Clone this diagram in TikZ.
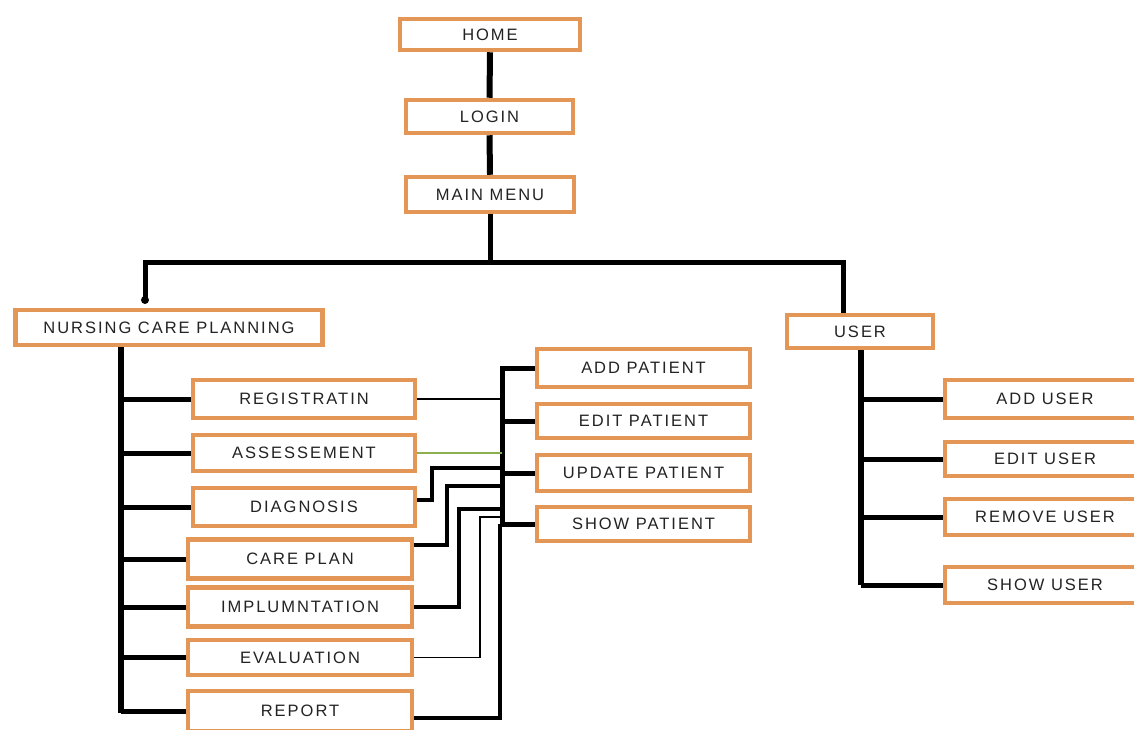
\documentclass[tikz,border=0pt]{standalone}
\usepackage{fontspec}
\setmainfont{Liberation Sans}
\usetikzlibrary{calc}
\definecolor{boxorange}{RGB}{228,150,86}
\definecolor{txtgray}{RGB}{35,35,35}
\definecolor{lgreen}{RGB}{140,176,80}
\begin{document}
\begin{tikzpicture}[x=1pt,y=-1pt,
  box/.style={draw=boxorange,line width=4.5pt,fill=white,inner sep=0pt,
    font={\fontsize{16.5}{18}\selectfont\addfontfeatures{LetterSpace=12}},text=txtgray},
  wire/.style={line width=5pt,black},
  trunk/.style={line width=6pt,black},
  midwire/.style={line width=3.4pt,black},
  thinwire/.style={line width=1.8pt,black}]
\useasboundingbox (0,0) rectangle (1134,729);
% top chain
\node[box,minimum width=180pt,minimum height=31pt] (home) at (490,34.5) {HOME};
\node[box,minimum width=167pt,minimum height=33pt] (login) at (489.5,116.5) {LOGIN};
\node[box,minimum width=168pt,minimum height=35pt] (menu) at (490,194.5) {MAIN MENU};
\node[box,minimum width=307pt,minimum height=35pt] (ncp) at (169,327.5) {NURSING CARE PLANNING};
\node[box,minimum width=146pt,minimum height=33pt] (user) at (860,331.5) {USER};
% nursing care planning children
\node[box,minimum width=222pt,minimum height=38pt] (reg) at (304,399) {REGISTRATIN};
\node[box,minimum width=222pt,minimum height=36pt] (assess) at (304,453) {ASSESSEMENT};
\node[box,minimum width=222pt,minimum height=38pt] (diag) at (304,507) {DIAGNOSIS};
\node[box,minimum width=224pt,minimum height=39pt] (care) at (300,559) {CARE PLAN};
\node[box,minimum width=224pt,minimum height=39pt] (impl) at (300,607) {IMPLUMNTATION};
\node[box,minimum width=224pt,minimum height=35pt] (eval) at (300,657.5) {EVALUATION};
\node[box,minimum width=224pt,minimum height=40pt] (report) at (300,711) {REPORT};
% patient boxes
\node[box,minimum width=213pt,minimum height=38pt] (addp) at (643.5,368) {ADD PATIENT};
\node[box,minimum width=213pt,minimum height=34pt] (editp) at (643.5,421) {EDIT PATIENT};
\node[box,minimum width=213pt,minimum height=36pt] (updp) at (643.5,473) {UPDATE PATIENT};
\node[box,minimum width=213pt,minimum height=34pt] (showp) at (643.5,524) {SHOW PATIENT};
% user children
\node[box,minimum width=200pt,minimum height=38pt] (addu) at (1045,399) {ADD USER};
\node[box,minimum width=200pt,minimum height=34pt] (editu) at (1045,459) {EDIT USER};
\node[box,minimum width=200pt,minimum height=36pt] (remu) at (1045,517) {REMOVE USER};
\node[box,minimum width=200pt,minimum height=36pt] (showu) at (1045,585) {SHOW USER};
% coordinates
\coordinate (busL) at (145,262);
\coordinate (busR) at (843,262);
\coordinate (ndrop) at (145,300);
\coordinate (ntr) at (121,0);
\coordinate (utr) at (861,0);
\coordinate (pb) at (502,0);
\coordinate (rb) at (500,0);
\coordinate (d1) at (432,468);
\coordinate (c1) at (447,486);
\coordinate (i1) at (459,509);
\coordinate (e1) at (480,517);
% top connectors
\draw[trunk] (home.south) -- (login.north);
\draw[trunk] (login.south) -- (menu.north);
\draw[wire] (menu.south) -- (menu.south |- busL);
\draw[wire] (ndrop) -- (busL) -- (busR) -- (user.north -| busR);
\fill (ndrop) circle (4pt);
% nursing trunk
\draw[trunk] (ncp.south -| ntr) -- ($(report.west -| ntr)+(0,2)$);
\foreach \n in {reg,assess,diag,care,impl,eval,report}
  \draw[wire] (\n.west -| ntr) -- (\n.west);
% user trunk
\draw[trunk] (user.south -| utr) -- (showu.west -| utr);
\foreach \n in {addu,editu,remu,showu}
  \draw[wire] (\n.west -| utr) -- (\n.west);
% patient bus
\draw[wire] (addp.west) -- (addp.west -| pb) -- (showp.west -| pb) -- (showp.west);
\draw[wire] (editp.west -| pb) -- (editp.west);
\draw[wire] (updp.west -| pb) -- (updp.west);
% links into patient bus
\draw[line width=2.8pt] (reg.east) -- (reg.east -| pb);
\draw[line width=2.2pt,lgreen] (assess.east) -- (assess.east -| pb);
\draw[midwire] ($(diag.east)+(0,-7)$) -| (d1) -- (d1 -| pb);
\draw[midwire] ($(care.east)+(0,-14)$) -| (c1) -- (c1 -| pb);
\draw[midwire] (impl.east) -| (i1) -- (i1 -| pb);
\draw[thinwire] (eval.east) -| (e1) -- (e1 -| pb);
\draw[midwire] ($(report.east)+(0,7)$) -| ($(showp.west -| rb)$);
\end{tikzpicture}
\end{document}
